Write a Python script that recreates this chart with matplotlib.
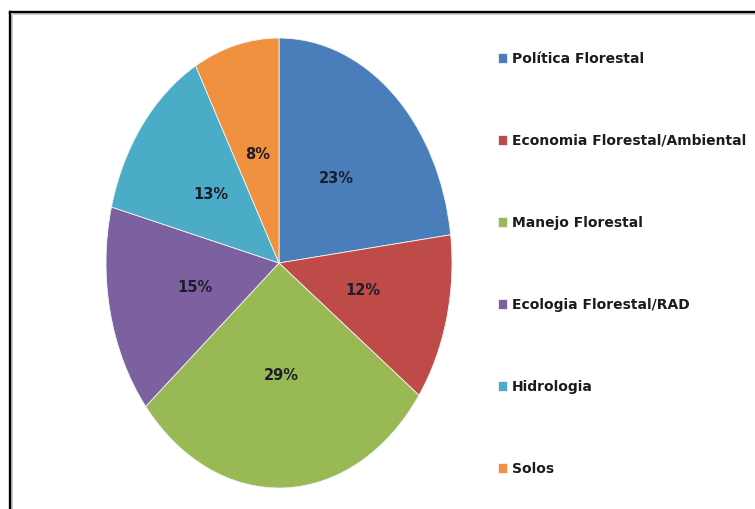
import matplotlib
matplotlib.use("Agg")
import matplotlib.pyplot as plt
from matplotlib.lines import Line2D

categories = ["Política Florestal", "Economia Florestal/Ambiental", "Manejo Florestal",
              "Ecologia Florestal/RAD", "Hidrologia", "Solos"]
values = [23, 12, 29, 15, 13, 8]
colors = ["#4A7EBB", "#BE4B48", "#98B954", "#7D60A0", "#4AACC6", "#F0913F"]

W, H = 755, 509
fig = plt.figure(figsize=(W / 100, H / 100), dpi=100)
fig.patch.set_facecolor("white")

# pie axes (elliptical pie, like the reference)
cx, cy, rx, ry = 279, 263, 173, 225
ax = fig.add_axes([(cx - rx) / W, (H - cy - ry) / H, 2 * rx / W, 2 * ry / H])
wedges, texts, autotexts = ax.pie(
    values, colors=colors, startangle=90, counterclock=False,
    autopct=lambda p: f"{p:.0f}%", pctdistance=0.5,
    wedgeprops=dict(linewidth=0.6, edgecolor="#f4f4f4"),
    textprops=dict(fontsize=10.5, fontweight="bold", color="#1c1c2a"))
ax.set_aspect("auto")
ax.set_xlim(-1, 1)
ax.set_ylim(-1, 1)

leg = fig.legend(wedges, categories, loc="upper left",
                 bbox_to_anchor=(492 / W, (H - 46) / H),
                 frameon=False, handlelength=0.7, handleheight=0.7,
                 handletextpad=0.35, labelspacing=4.9, borderaxespad=0,
                 prop=dict(weight="bold", size=10))
for t in leg.get_texts():
    t.set_color("#1c1c1c")

# chart frame (top and left edges visible)
fig.add_artist(Line2D([9.5 / W, 1.0], [(H - 11.5) / H, (H - 11.5) / H],
                      color="black", linewidth=2.4, transform=fig.transFigure))
fig.add_artist(Line2D([9.5 / W, 9.5 / W], [0.0, (H - 11.5) / H],
                      color="black", linewidth=2.4, transform=fig.transFigure))
fig.add_artist(Line2D([12 / W, 1.0], [(H - 14) / H, (H - 14) / H],
                      color="#c8c8c8", linewidth=1.2, transform=fig.transFigure))
fig.add_artist(Line2D([12 / W, 12 / W], [0.0, (H - 14) / H],
                      color="#c8c8c8", linewidth=1.2, transform=fig.transFigure))

fig.savefig("out.png", dpi=100, facecolor="white")
